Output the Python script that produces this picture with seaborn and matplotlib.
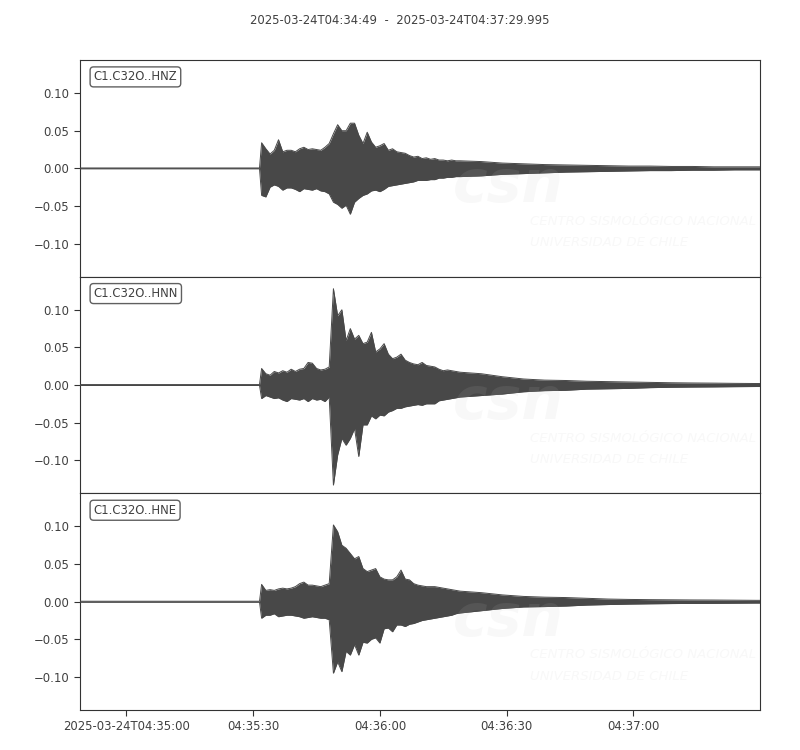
import numpy as np
import pandas as pd
import matplotlib
matplotlib.use("Agg")
import matplotlib.pyplot as plt
import seaborn as sns

# --- data (amplitude envelope of each trace) ---
title = "2025-03-24T04:34:49  -  2025-03-24T04:37:29.995"
channels = ["C1.C32O..HNZ", "C1.C32O..HNN", "C1.C32O..HNE"]
tick_seconds = [11, 41, 71, 101, 131]
tick_labels = ["2025-03-24T04:35:00", "04:35:30", "04:36:00", "04:36:30", "04:37:00"]
y_ticks = [0.10, 0.05, 0.0, -0.05, -0.10]
duration = 160.995

# seconds after 04:34:49: quiet part, 1 s steps through the shaking, 5 s in the coda
time_s = [0, 42.5] + list(range(43, 91)) + list(range(95, 161, 5)) + [161]

hnz_top = [0.0005, 0.0005,
           0.034, 0.026, 0.019, 0.024, 0.038, 0.022, 0.024, 0.024, 0.022, 0.026,
           0.028, 0.025, 0.026, 0.025, 0.024, 0.028, 0.033, 0.046, 0.058, 0.050,
           0.050, 0.060, 0.060, 0.044, 0.033, 0.048, 0.035, 0.028, 0.030, 0.033,
           0.024, 0.026, 0.022, 0.021, 0.020, 0.017, 0.015, 0.016, 0.013, 0.014,
           0.012, 0.013, 0.011, 0.011, 0.010, 0.011, 0.010, 0.010,
           0.009, 0.007, 0.006, 0.005, 0.0045, 0.004, 0.0035, 0.003, 0.003,
           0.0025, 0.0025, 0.002, 0.002, 0.002, 0.002]
hnz_bot = [-0.0005, -0.0005,
           -0.036, -0.038, -0.025, -0.022, -0.024, -0.029, -0.026, -0.026, -0.028, -0.031,
           -0.027, -0.028, -0.029, -0.027, -0.030, -0.031, -0.034, -0.045, -0.048, -0.053,
           -0.049, -0.061, -0.045, -0.040, -0.036, -0.034, -0.030, -0.029, -0.031, -0.028,
           -0.024, -0.023, -0.022, -0.021, -0.020, -0.019, -0.018, -0.016, -0.016, -0.016,
           -0.015, -0.015, -0.013, -0.013, -0.012, -0.012, -0.011, -0.011,
           -0.010, -0.008, -0.007, -0.006, -0.005, -0.0045, -0.004, -0.0035, -0.003,
           -0.003, -0.0025, -0.0025, -0.002, -0.002, -0.002]

hnn_top = [0.0006, 0.0006,
           0.022, 0.015, 0.013, 0.018, 0.016, 0.019, 0.017, 0.021, 0.018, 0.021,
           0.022, 0.030, 0.029, 0.022, 0.020, 0.021, 0.024, 0.128, 0.092, 0.100,
           0.059, 0.075, 0.061, 0.066, 0.055, 0.057, 0.070, 0.044, 0.048, 0.055,
           0.041, 0.035, 0.037, 0.041, 0.033, 0.030, 0.028, 0.027, 0.030, 0.026,
           0.025, 0.024, 0.021, 0.019, 0.020, 0.019, 0.018, 0.017,
           0.015, 0.011, 0.008, 0.0065, 0.006, 0.005, 0.0045, 0.004, 0.0035,
           0.003, 0.0027, 0.0025, 0.0022, 0.002, 0.002]
hnn_bot = [-0.0006, -0.0006,
           -0.018, -0.014, -0.016, -0.018, -0.017, -0.020, -0.022, -0.018, -0.019, -0.020,
           -0.018, -0.022, -0.018, -0.020, -0.019, -0.022, -0.016, -0.133, -0.093, -0.071,
           -0.080, -0.071, -0.058, -0.095, -0.053, -0.053, -0.041, -0.045, -0.040, -0.041,
           -0.036, -0.034, -0.031, -0.031, -0.029, -0.028, -0.027, -0.026, -0.027, -0.025,
           -0.025, -0.025, -0.021, -0.020, -0.019, -0.018, -0.017, -0.016,
           -0.014, -0.012, -0.009, -0.0075, -0.007, -0.0055, -0.005, -0.0045, -0.0035,
           -0.003, -0.0027, -0.0025, -0.0022, -0.002, -0.002]

hne_top = [0.0006, 0.0006,
           0.023, 0.015, 0.016, 0.015, 0.017, 0.018, 0.017, 0.018, 0.020, 0.024,
           0.026, 0.022, 0.022, 0.021, 0.020, 0.022, 0.024, 0.102, 0.093, 0.075,
           0.071, 0.064, 0.057, 0.060, 0.044, 0.040, 0.042, 0.044, 0.033, 0.030,
           0.029, 0.029, 0.033, 0.042, 0.030, 0.029, 0.024, 0.022, 0.021, 0.020,
           0.020, 0.020, 0.019, 0.018, 0.017, 0.016, 0.015, 0.014,
           0.012, 0.009, 0.007, 0.006, 0.0055, 0.0045, 0.0035, 0.003, 0.0027,
           0.0025, 0.0023, 0.0022, 0.002, 0.0018, 0.0018]
hne_bot = [-0.0006, -0.0006,
           -0.022, -0.018, -0.018, -0.016, -0.020, -0.019, -0.018, -0.018, -0.019, -0.020,
           -0.022, -0.021, -0.020, -0.021, -0.022, -0.022, -0.024, -0.095, -0.080, -0.093,
           -0.066, -0.071, -0.057, -0.071, -0.054, -0.055, -0.050, -0.048, -0.055, -0.036,
           -0.035, -0.040, -0.031, -0.031, -0.033, -0.030, -0.029, -0.027, -0.025, -0.024,
           -0.023, -0.022, -0.021, -0.020, -0.019, -0.018, -0.016, -0.015,
           -0.012, -0.009, -0.007, -0.0065, -0.0058, -0.0045, -0.0038, -0.0032, -0.0028,
           -0.0025, -0.0023, -0.0022, -0.002, -0.0018, -0.0018]

envelopes = [(hnz_top, hnz_bot), (hnn_top, hnn_bot), (hne_top, hne_bot)]

trace_color = "#484848"
text_color = "#404040"

sns.set_theme(style="ticks")
plt.rcParams["font.family"] = ["DejaVu Sans"]
plt.rcParams["axes.edgecolor"] = "#333333"
plt.rcParams["xtick.color"] = "#333333"
plt.rcParams["ytick.color"] = "#333333"
plt.rcParams["xtick.labelcolor"] = text_color
plt.rcParams["ytick.labelcolor"] = text_color

fig, axes = plt.subplots(3, 1, figsize=(8, 7.5), dpi=100, sharex=True,
                         gridspec_kw={"hspace": 0})
fig.subplots_adjust(left=0.1, right=0.95, top=0.92, bottom=0.0533)

for ax, name, (top, bot) in zip(axes, channels, envelopes):
    ax.fill_between(time_s, bot, top, color=trace_color, lw=0, zorder=2)
    edges = pd.DataFrame({
        "t": np.concatenate([time_s, time_s]),
        "amp": np.concatenate([top, bot]),
        "side": ["top"] * len(time_s) + ["bot"] * len(time_s),
    })
    sns.lineplot(data=edges, x="t", y="amp", units="side", estimator=None,
                 color=trace_color, lw=0.7, ax=ax, zorder=3)

    # faint CSN watermark
    wm = dict(transform=ax.transAxes, color="#c0c0c0", alpha=0.11, zorder=5,
              clip_on=True)
    ax.text(0.63, 0.42, "csn", fontsize=42, fontweight="bold", style="italic",
            ha="center", va="center", **wm)
    ax.text(0.662, 0.255, "CENTRO SISMOLÓGICO NACIONAL", fontsize=9.5,
            style="italic", ha="left", va="center", **wm)
    ax.text(0.662, 0.157, "UNIVERSIDAD DE CHILE", fontsize=9.5,
            style="italic", ha="left", va="center", **wm)

    ax.text(0.02, 0.952, name, transform=ax.transAxes, ha="left", va="top",
            fontsize=8.4, color=text_color, zorder=6,
            bbox=dict(boxstyle="round,pad=0.3", fc="white", ec="#606060", lw=1))

    ax.set_xlim(0, duration)
    ax.set_ylim(-0.144, 0.144)
    ax.set_yticks(y_ticks)
    ax.set_yticklabels([f"{v:.2f}".replace("-", "\u2212") for v in y_ticks])
    ax.set_xlabel("")
    ax.set_ylabel("")
    ax.tick_params(axis="y", labelsize=8.4, length=4, width=0.8)
    for s in ax.spines.values():
        s.set_visible(True)
        s.set_linewidth(0.8)

for ax in axes[:-1]:
    ax.tick_params(axis="x", bottom=False, labelbottom=False)

axes[-1].set_xticks(tick_seconds)
axes[-1].set_xticklabels(tick_labels)
axes[-1].tick_params(axis="x", labelsize=8.4, length=4, width=0.8)

fig.text(0.5, 0.973, title, ha="center", va="center", fontsize=8.4, color=text_color)

fig.savefig("out.png", dpi=100)
